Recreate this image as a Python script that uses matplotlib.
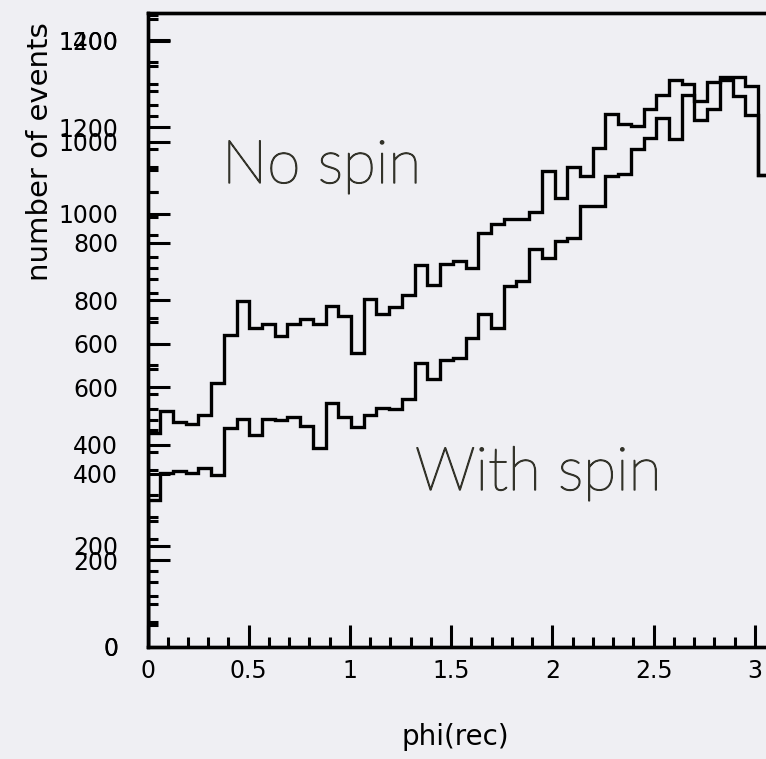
import numpy as np
import matplotlib
matplotlib.use("Agg")
import matplotlib.pyplot as plt
import matplotlib.patheffects as pe
from matplotlib.ticker import MultipleLocator

# phi(rec) distribution, 50 bins from 0 to pi
n_bins = 50
phi_max = np.pi

# counts per bin, "No spin" sample (drawn against the 0-1400 scale)
no_spin = [493, 545, 519, 515, 536, 609, 720, 799, 737, 746,
           719, 746, 756, 746, 788, 765, 679, 803, 769, 784,
           813, 882, 836, 884, 892, 874, 955, 976, 988, 987,
           1005, 1099, 1036, 1107, 1087, 1153, 1230, 1207, 1203, 1243,
           1274, 1309, 1300, 1260, 1305, 1316, 1316, 1295, 1090, 1050]

# counts per bin, "With spin" sample (drawn against the 0-1200 scale)
with_spin = [291, 344, 349, 344, 354, 340, 433, 452, 419, 451,
             449, 456, 437, 393, 483, 456, 435, 460, 472, 470,
             491, 561, 530, 568, 571, 612, 659, 631, 715, 725,
             787, 769, 804, 810, 873, 873, 931, 936, 985, 1008,
             1046, 1006, 1092, 1043, 1064, 1122, 1090, 1053, 934, 900]

bg = "#efeff3"
text_col = "#33332a"

fig = plt.figure(figsize=(7.66, 7.59), dpi=100)
fig.patch.set_facecolor(bg)

# frame runs a little past the right edge of the canvas
ax = fig.add_axes([147.5 / 766, 112 / 759, 636 / 766, 634 / 759])
ax.set_facecolor("none")
ax.set_xlim(0, phi_max)
ax.set_ylim(0, 1254.4)

ax2 = ax.twinx()
ax2.set_ylim(0, 1463.5)
ax2.yaxis.tick_left()

edges = np.linspace(0, phi_max, n_bins + 1)
ax2.stairs(no_spin, edges, color="black", linewidth=2.4)
ax.stairs(with_spin, edges, color="black", linewidth=2.4)

for a in (ax, ax2):
    for sp in a.spines.values():
        sp.set_linewidth(2.4)
    a.yaxis.set_major_locator(MultipleLocator(200))
    a.yaxis.set_minor_locator(MultipleLocator(50))
    a.tick_params(axis="y", which="major", direction="in", length=15.5,
                  width=2.2, labelsize=17, pad=21, left=True, right=False)
    a.tick_params(axis="y", which="minor", direction="in", length=7.5,
                  width=2.2, left=True, right=False)

ax.xaxis.set_major_locator(MultipleLocator(0.5))
ax.xaxis.set_minor_locator(MultipleLocator(0.1))
ax.xaxis.set_major_formatter(lambda v, p: f"{v:g}")
ax.tick_params(axis="x", which="major", direction="in", length=15.5,
               width=2.2, labelsize=17, pad=9, top=False)
ax.tick_params(axis="x", which="minor", direction="in", length=7.5,
               width=2.2, top=False)

fig.text(40 / 766, 1 - 152 / 759, "number of events", rotation=90,
         ha="center", va="center", fontsize=21)
fig.text(455 / 766, 1 - 737 / 759, "phi(rec)", ha="center", va="center",
         fontsize=20)

# thin face, thickened a touch with a same-colour stroke
label_fx = [pe.withStroke(linewidth=1.0, foreground=text_col)]
fig.text(222 / 766, 1 - 183 / 759, "No spin", ha="left", va="baseline",
         fontsize=43.5, color=text_col, family="Lato", weight="light",
         path_effects=label_fx)
fig.text(415 / 766, 1 - 490 / 759, "With spin", ha="left", va="baseline",
         fontsize=43.5, color=text_col, family="Lato", weight="light",
         path_effects=label_fx)

fig.savefig("out.png", dpi=100, facecolor=bg)
